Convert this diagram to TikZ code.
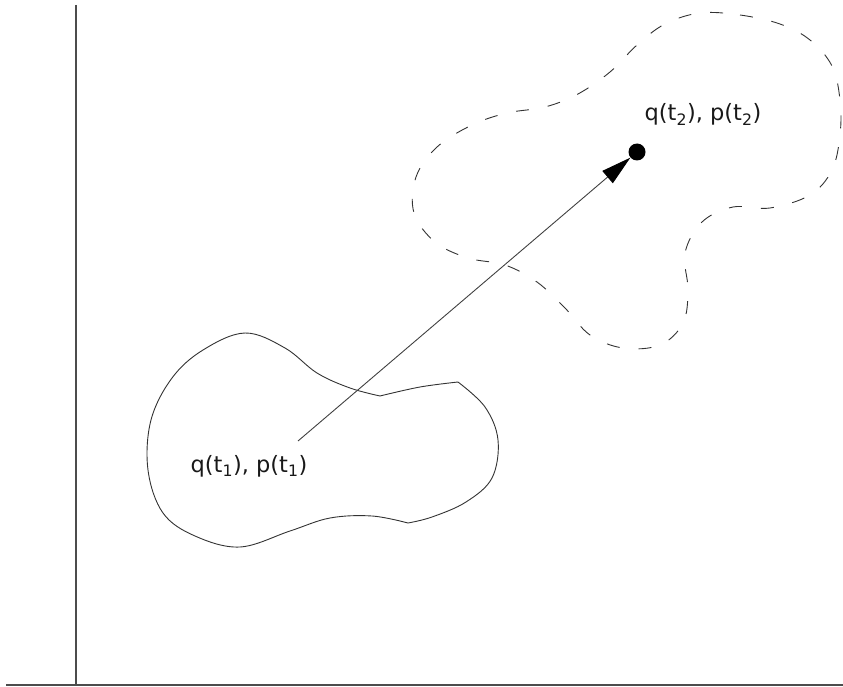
\documentclass[tikz,border=0pt]{standalone}
\usepackage{fontspec}
\setmainfont{DejaVu Sans}
\usetikzlibrary{arrows.meta}
\begin{document}
\begin{tikzpicture}[x=1pt,y=-1pt,
  axisline/.style={draw=black!70,line width=1.4pt},
  blobline/.style={draw=black!80,line width=0.9pt,line join=round},
  dashblob/.style={draw=black!80,line width=0.9pt,dash pattern=on 13pt off 19pt},
  lbl/.style={anchor=base,font=\fontsize{22.5}{26}\selectfont,inner sep=0pt,text=black!90},
  pointdot/.style={circle,fill=black,inner sep=0pt,minimum size=17pt},
  traj/.style={draw=black!75,line width=0.9pt,-{Triangle[length=30pt,width=16pt,fill=black,color=black]}}]
\useasboundingbox (0,0) rectangle (843,687);
% axes
\coordinate (ytop) at (76,5);
\coordinate (origin) at (76,686);
\coordinate (xleft) at (6,685);
\coordinate (xright) at (843,685);
\draw[axisline] (ytop) -- (origin);
\draw[axisline] (xleft) -- (xright);
% solid region
\draw[blobline] plot[smooth,tension=0.6] coordinates {(458,382) (485,407) (498,440) (492,478) (466,502) (432,517) (408,523)}
  -- plot[smooth,tension=0.6] coordinates {(408,523) (372,516) (330,518) (290,531) (240,547) (195,536) (163,513) (148,470) (151,420) (172,378) (203,350) (245,333) (285,348) (317,373) (350,388) (380,396)}
  -- plot[smooth,tension=0.6] coordinates {(380,396) (420,387) (458,382)};
% dashed region
\draw[dashblob] plot[smooth cycle,tension=0.6] coordinates {(700,13) (740,15) (780,24) (810,40) (832,66) (840,100) (840,135) (832,170) (810,195) (770,208) (733,207) (702,222) (685,253) (688,290) (683,323) (660,345) (623,348) (590,335) (565,308) (537,282) (505,265) (468,258) (435,242) (414,213) (416,177) (437,147) (472,125) (507,113) (545,107) (578,94) (610,72) (637,45) (665,24)};
% points and labels
\coordinate (start) at (298,441);
\node[pointdot] (end) at (637,152) {};
\draw[traj] (start) -- (end);
\node[lbl] (l1) at (249,472) {q(t\textsubscript{1}), p(t\textsubscript{1})};
\node[lbl] (l2) at (703,121) {q(t\textsubscript{2}), p(t\textsubscript{2})};
\end{tikzpicture}
\end{document}
